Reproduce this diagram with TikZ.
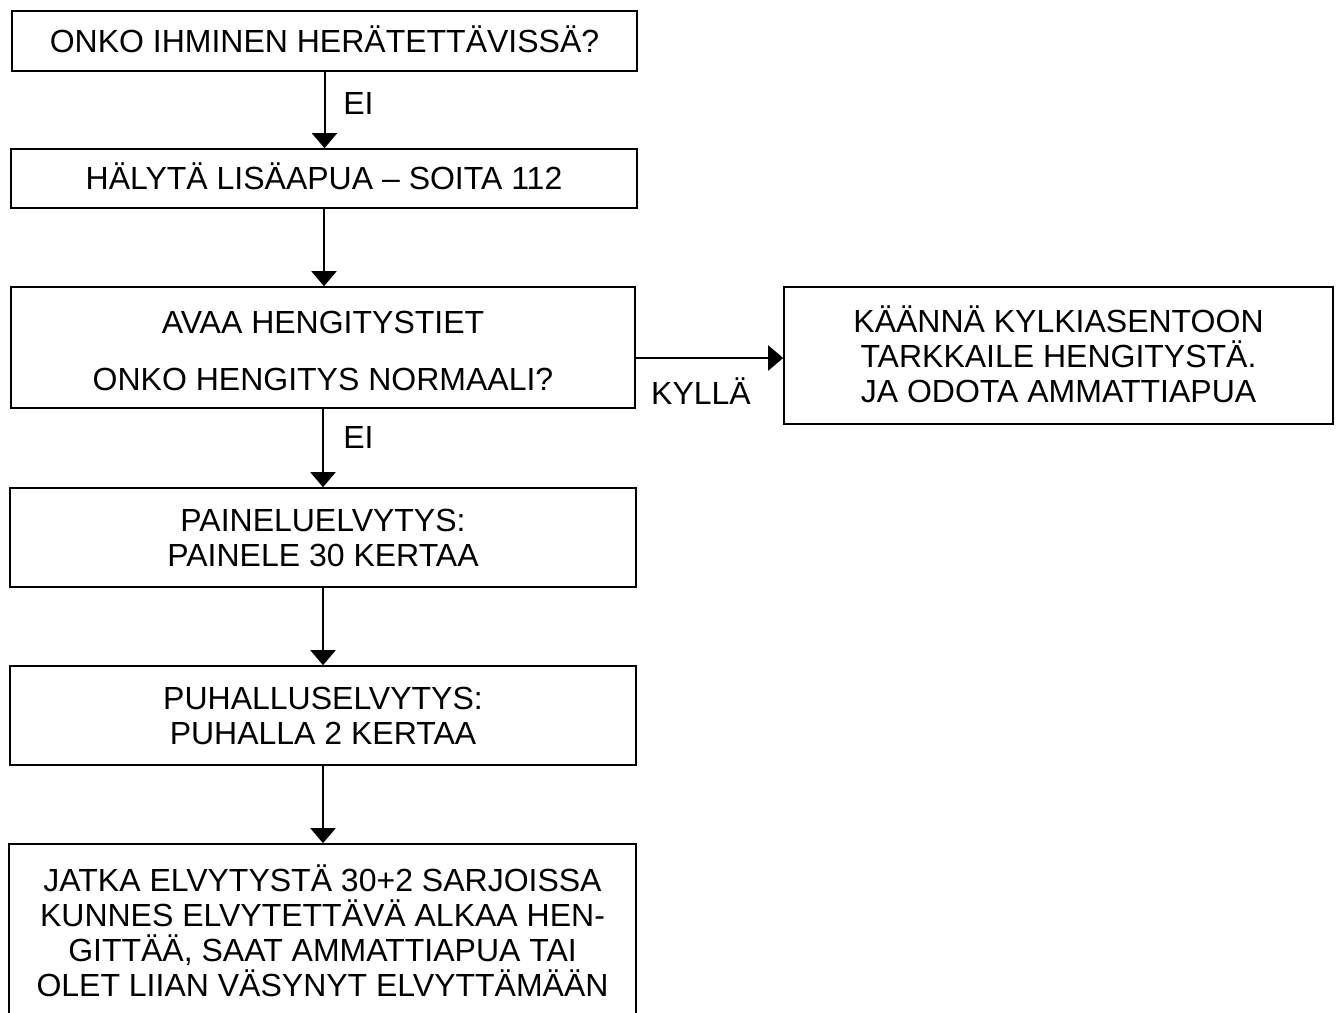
\documentclass[tikz,border=0pt]{standalone}
\usepackage{fontspec}
\setmainfont{Liberation Sans}
\usetikzlibrary{arrows.meta,calc}
\newcommand\lst{\rule[-4.5pt]{0pt}{26.25pt}}
\newcommand\lsttall{\rule[-4.5pt]{0pt}{30.75pt}}
\begin{document}
\begin{tikzpicture}[x=0.75pt,y=-0.75pt,
  box/.style={draw=black, line width=1.2pt, rectangle, inner sep=0pt, align=center,
    font=\fontsize{24}{26.25}\selectfont},
  lbl/.style={inner sep=0pt, font=\fontsize{24}{26.25}\selectfont},
  arr/.style={line width=1.5pt, -{Triangle[length=11.25pt,width=18.75pt]}}]
\useasboundingbox (0,0) rectangle (1338,1013);
\clip (0,0) rectangle (1338,1013);

\node[box, minimum width=468.75pt, minimum height=45pt] (b1) at (324.5,41)
  {\lst ONKO IHMINEN HERÄTETTÄVISSÄ?};
\node[box, minimum width=469.5pt, minimum height=44.25pt] (b2) at (324,178.5)
  {\lst HÄLYTÄ LISÄAPUA – SOITA 112};
\node[box, minimum width=468pt, minimum height=90.75pt] (b3) at (323,347.5)
  {\lsttall AVAA HENGITYSTIET\\[16.5pt]\lst ONKO HENGITYS NORMAALI?};
\node[box, minimum width=411.75pt, minimum height=102.75pt] (b4) at (1058.5,355.5)
  {\lst KÄÄNNÄ KYLKIASENTOON\\\lst TARKKAILE HENGITYSTÄ.\\\lst JA ODOTA AMMATTIAPUA};
\node[box, minimum width=469.5pt, minimum height=74.25pt] (b5) at (323,537.5)
  {\lst PAINELUELVYTYS:\\\lst PAINELE 30 KERTAA};
\node[box, minimum width=469.5pt, minimum height=74.25pt] (b6) at (323,715.5)
  {\lst PUHALLUSELVYTYS:\\\lst PUHALLA 2 KERTAA};
\node[box, minimum width=470.25pt, minimum height=132.75pt] (b7) at (322.5,932.5)
  {\lst JATKA ELVYTYSTÄ 30+2 SARJOISSA\\\lst KUNNES ELVYTETTÄVÄ ALKAA HEN-\\\lst GITTÄÄ, SAAT AMMATTIAPUA TAI\\\lst OLET LIIAN VÄSYNYT ELVYTTÄMÄÄN};

\draw[arr] (b1.south) -- (b1.south |- b2.north);
\draw[arr] (b2.south) -- (b2.south |- b3.north);
\draw[arr] (b3.south) -- (b3.south |- b5.north);
\draw[arr] (b5.south) -- (b5.south |- b6.north);
\draw[arr] (b6.south) -- (b6.south |- b7.north);
\draw[arr] ([yshift=-7.875pt]b3.east) -- ([yshift=-7.875pt]b3.east -| b4.west);

\node[lbl, anchor=west] (l1) at (343,103) {\lst EI};
\node[lbl, anchor=west] (l2) at (343,437) {\lst EI};
\node[lbl] (l3) at (701,393) {\lst KYLLÄ};
\end{tikzpicture}
\end{document}
